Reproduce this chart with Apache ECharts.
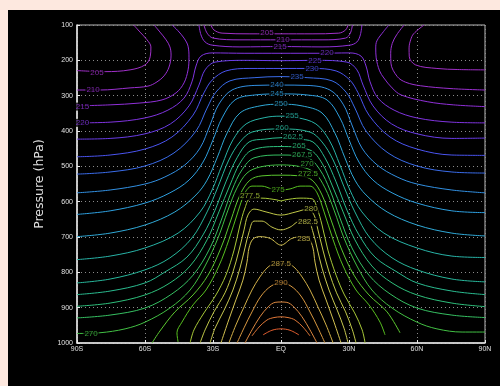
<!DOCTYPE html>
<html>
<head>
<meta charset="utf-8">
<script src="https://cdn.jsdelivr.net/npm/echarts@6/dist/echarts.min.js"></script>
<style>
  html, body { margin: 0; padding: 0; background: #fde8df; }
  #chart { position: absolute; left: 8px; top: 10px; width: 492px; height: 376px; background: #000; }
</style>
</head>
<body>
<div id="chart"></div>
<script>
// axis ticks
const latTicks = ["90S", "60S", "30S", "EQ", "30N", "60N", "90N"];
const pressureTicks = [100, 200, 300, 400, 500, 600, 700, 800, 900, 1000];

// contour levels and their line colours
const levels = [205, 210, 215, 220, 225, 230, 235, 240, 245, 250, 255, 260, 262.5, 265, 267.5,
  270, 272.5, 275, 277.5, 280, 282.5, 285, 287.5, 290, 292.5, 295, 297.5];
const levelColors = ["#a030c8", "#9a30d0", "#9030d8", "#8034e0", "#6a3ce8", "#4a54f0", "#3a6cea", "#3290e2",
  "#2ea0e0", "#30aad8", "#28b4a8", "#28b89c", "#2abc90", "#2ec07c", "#36c062", "#42c044", "#5cc830",
  "#58c020", "#a8c838", "#c0c848", "#c8c850", "#d2c050", "#d2b048", "#d89840", "#dc8840", "#e07838", "#e66030"];

// contour paths, [latitude, pressure hPa]
const c205south = [[-90, 229], [-77.6, 232], [-66.6, 227], [-60, 213], [-57.7, 190], [-57.4, 162], [-59.1, 142], [-62.2, 120], [-65, 100]];
const c205eq = [[-30.9, 100], [-29.6, 114], [-26, 123], [-13.7, 125], [0, 125], [13.7, 125], [25.5, 123], [28.5, 114], [29.6, 100]];
const c205north = [[63.1, 100], [58.5, 125], [57.2, 142], [56.5, 165], [56.6, 190], [59.4, 213], [68.8, 223], [78, 226], [90, 227]];
const c210south = [[-90, 284], [-79.9, 284], [-66.6, 278], [-58.7, 273], [-54.7, 261], [-51.6, 244], [-49.4, 219], [-48.5, 185], [-49, 162], [-50.7, 142], [-53.4, 120], [-56, 100]];
const c210eq = [[-34, 100], [-32.6, 123], [-30, 137], [-18.1, 142], [0, 142], [18.1, 142], [28.5, 137], [30.6, 123], [31.5, 100]];
const c210north = [[54.3, 100], [51, 128], [49.1, 152], [48.4, 180], [48.5, 208], [51.3, 246], [55, 262], [61.6, 272], [75, 280], [90, 284]];
const c215south = [[-90, 329], [-75.4, 326], [-62.6, 321], [-52.5, 312], [-46.3, 292], [-42.8, 264], [-41, 227], [-40.6, 193], [-41, 160], [-42.8, 137], [-45.5, 116], [-48, 100]];
const c215eq = [[-36.2, 100], [-35.3, 128], [-33.5, 148], [-30.4, 157], [-18.1, 162], [0, 161], [18.1, 162], [30.4, 157], [33.5, 148], [35, 128], [35.7, 100]];
const c215north = [[47.6, 100], [45.3, 118], [42.3, 145], [41.8, 165], [42, 193], [43.5, 230], [45.4, 250], [49, 278], [53, 298], [64.5, 317], [76, 326], [90, 331]];
const c220 = [[-90, 377], [-75.4, 375], [-60, 363], [-49.9, 341], [-42.8, 307], [-39.3, 261], [-37.5, 216], [-35.3, 188], [-30.4, 179], [-15.9, 180], [0, 180],
  [15.9, 180], [30.4, 179], [35.3, 188], [37.5, 216], [39.3, 261], [42.8, 307], [49.9, 341], [60, 363], [75.4, 375], [90, 377]];
const c225 = [[-90, 423], [-75.4, 421], [-60, 408], [-48.8, 380], [-40.6, 329], [-36.2, 270], [-33.5, 227], [-29.1, 205], [-15.9, 200], [0, 201],
  [15.9, 200], [29.1, 205], [33.5, 227], [36.2, 270], [40.6, 329], [48.8, 380], [60, 408], [75.4, 421], [90, 420]];
const c230 = [[-90, 473], [-75.4, 468], [-60, 451], [-48.1, 417], [-38.8, 355], [-34, 292], [-30.4, 256], [-24.3, 230], [-13.7, 223], [0, 223],
  [13.7, 223], [24.3, 230], [30.4, 256], [34, 292], [38.8, 355], [48.1, 417], [60, 451], [75.4, 468], [90, 469]];
const c235 = [[-90, 522], [-75.4, 516], [-60, 499], [-47.2, 462], [-37.5, 400], [-32.6, 335], [-28.7, 290], [-22.5, 258], [-11.5, 249], [0, 246],
  [11.5, 249], [22.5, 258], [28.7, 290], [32.6, 335], [37.5, 400], [47.2, 462], [60, 499], [75.4, 516], [90, 519]];
const c240 = [[-90, 575], [-75.4, 567], [-60, 550], [-51.2, 530], [-42.4, 496], [-35.7, 448], [-31.3, 383], [-27.4, 324], [-21.6, 284], [-11.5, 271], [0, 270],
  [11.5, 271], [21.6, 284], [27.4, 324], [31.3, 383], [35.7, 448], [42.4, 496], [51.2, 530], [60, 550], [75.4, 567], [90, 575]];
const c245 = [[-90, 636], [-75.4, 626], [-60, 604], [-49, 575], [-40.6, 539], [-34.4, 488], [-30, 425], [-26, 363], [-20.3, 312], [-11.5, 298], [0, 295],
  [11.5, 298], [20.3, 312], [26, 363], [30, 425], [34.4, 488], [40.6, 539], [49, 575], [60, 604], [75.4, 626], [90, 631]];
const c250 = [[-90, 699], [-75.4, 689], [-60, 666], [-46.8, 629], [-37.5, 581], [-32.6, 539], [-28.2, 476], [-23.8, 406], [-18.1, 349], [-9.3, 329], [0, 324],
  [9.3, 329], [18.1, 349], [23.8, 406], [28.2, 476], [32.6, 539], [37.5, 581], [46.8, 629], [60, 666], [75.4, 689], [90, 697]];
const c255 = [[-90, 764], [-75.4, 754], [-60, 731], [-45.4, 689], [-35.7, 629], [-30.4, 567], [-26, 496], [-21.2, 425], [-15.4, 380], [-7.1, 362], [0, 358],
  [7.1, 362], [15.4, 380], [21.2, 425], [26, 496], [30.4, 567], [35.7, 629], [45.4, 689], [60, 731], [75.4, 754], [90, 758]];
const c260 = [[-90, 830], [-75.4, 819], [-60, 793], [-49, 759], [-39.3, 703], [-32.6, 629], [-27.8, 558], [-23, 482], [-18.1, 431], [-12.8, 403], [0, 394],
  [12.8, 403], [18.1, 431], [23, 482], [27.8, 558], [32.6, 629], [39.3, 703], [49, 759], [60, 793], [75.4, 819], [90, 827]];
const c262 = [[-90, 863], [-75.4, 853], [-60, 830], [-51.2, 799], [-41.5, 757], [-34.4, 694], [-29.1, 624], [-24.3, 544], [-19.4, 476], [-14.1, 431], [-7.1, 423], [0, 419],
  [7.1, 423], [14.1, 431], [19.4, 476], [24.3, 544], [29.1, 624], [34.4, 694], [41.5, 757], [51.2, 799], [60, 830], [75.4, 853], [90, 863]];
const c265 = [[-90, 896], [-75.4, 887], [-60, 864], [-49, 830], [-40.1, 782], [-32.6, 708], [-27.4, 629], [-22.5, 553], [-18.1, 491], [-12.8, 454], [0, 444],
  [12.8, 454], [18.1, 491], [22.5, 553], [27.4, 629], [32.6, 708], [40.1, 782], [49, 830], [60, 864], [75.4, 887], [90, 897]];
const c267 = [[-90, 929], [-75.4, 921], [-60, 901], [-48.1, 861], [-38.8, 808], [-31.3, 731], [-26, 646], [-21.6, 567], [-17.2, 510], [-11.9, 476], [0, 468],
  [11.9, 476], [17.2, 510], [21.6, 567], [26, 646], [31.3, 731], [38.8, 808], [48.1, 861], [60, 901], [75.4, 921], [90, 928]];
const c270 = [[-90, 973], [-79.9, 971], [-68.8, 960], [-60, 941], [-49, 901], [-40.1, 850], [-33.5, 782], [-27.8, 703], [-23.4, 624], [-19.4, 561], [-15, 519], [-9.3, 502], [0, 496],
  [9.3, 502], [15, 519], [19.4, 561], [23.4, 624], [27.8, 703], [33.5, 782], [40.1, 850], [49, 901], [60, 941], [68.8, 960], [79.9, 969], [90, 969]];
const c272 = [[-56.9, 1000], [-53.4, 966], [-46.8, 912], [-38.8, 864], [-32.2, 808], [-26.5, 731], [-22.1, 652], [-18.1, 581], [-13.7, 539], [-8.4, 527], [0, 525],
  [8.4, 527], [13.7, 539], [18.1, 581], [22.1, 652], [26.5, 731], [32.2, 808], [38.8, 864], [46.8, 912], [52.5, 971]];
const c275 = [[-45.4, 997], [-45.9, 971], [-43.7, 941], [-38.8, 892], [-33.1, 850], [-27.4, 782], [-23, 708], [-19, 629], [-15.9, 575], [-12.8, 556], [-8.4, 556], [-4, 564], [0, 567],
  [4, 564], [8.4, 556], [12.8, 556], [15.9, 575], [19, 629], [23, 708], [27.4, 782], [33.1, 850], [38.8, 892], [43.7, 941], [45.9, 977]];
const c277 = [[-40.1, 1000], [-38.4, 963], [-34, 915], [-28.7, 864], [-24.3, 808], [-20.7, 737], [-18.1, 666], [-15.9, 618], [-13.7, 592], [-8.4, 590], [-1.8, 595], [0, 598],
  [1.8, 595], [8.4, 590], [13.7, 592], [15.9, 618], [18.1, 666], [20.7, 737], [24.3, 808], [28, 864], [32.5, 915], [35.8, 963], [37.1, 1000]];
const c280 = [[-35.7, 1000], [-33.5, 963], [-29.6, 912], [-24.7, 858], [-21.2, 799], [-18.5, 737], [-16.3, 680], [-14.6, 638], [-11.9, 621], [-6.6, 629], [0, 638],
  [6.6, 629], [11.9, 621], [14.6, 638], [16.3, 680], [18.5, 737], [21.2, 799], [24.5, 858], [28.5, 912], [31.5, 963], [33.1, 1000]];
const c282 = [[-31.3, 1000], [-29.1, 958], [-25.1, 907], [-21.2, 850], [-18.1, 788], [-15.9, 731], [-14.1, 686], [-11.9, 655], [-8.4, 655], [-4, 672], [0, 680],
  [4, 672], [8.4, 655], [11.9, 655], [14.1, 686], [15.9, 731], [18.1, 788], [21.2, 850], [24.8, 907], [27.8, 958], [29.6, 1000]];
const c285 = [[-26.5, 1000], [-23.4, 941], [-19.9, 878], [-16.8, 822], [-15, 771], [-14.1, 731], [-12.4, 706], [-9.3, 699], [-4.8, 704], [0, 723],
  [4.8, 704], [9.3, 699], [12.4, 706], [14.1, 731], [15, 771], [16.8, 822], [19.9, 878], [23.4, 941], [26.5, 1000]];
const c287 = [[-23, 1000], [-19.9, 949], [-16.3, 898], [-12.8, 850], [-9.3, 813], [-5.7, 785], [-2.6, 776], [0, 776],
  [2.6, 776], [5.7, 785], [9.3, 813], [12.8, 850], [16.3, 898], [19.9, 949], [23, 1000]];
const c290 = [[-19.4, 1000], [-16.3, 957], [-12.8, 912], [-8.8, 867], [-4.4, 839], [0, 830],
  [4.4, 839], [8.8, 867], [12.8, 912], [16.3, 957], [19.4, 1000]];
const c292 = [[-15.9, 1000], [-12.8, 963], [-9.3, 926], [-5.7, 898], [-2.6, 885], [0, 884],
  [2.6, 885], [5.7, 898], [9.3, 926], [12.8, 963], [15.9, 1000]];
const c295 = [[-12.8, 980], [-9.7, 955], [-6.2, 935], [-3.1, 928], [0, 926], [3.1, 928], [6.2, 935], [9.7, 955], [12.8, 980]];
const c297 = [[-7.9, 977], [-4, 964], [0, 960], [4, 964], [7.9, 977]];

const contourSegments = [
  [205, c205south], [205, c205eq], [205, c205north],
  [210, c210south], [210, c210eq], [210, c210north],
  [215, c215south], [215, c215eq], [215, c215north],
  [220, c220], [225, c225], [230, c230], [235, c235], [240, c240], [245, c245], [250, c250],
  [255, c255], [260, c260], [262.5, c262], [265, c265], [267.5, c267], [270, c270],
  [272.5, c272], [275, c275], [277.5, c277], [280, c280], [282.5, c282], [285, c285],
  [287.5, c287], [290, c290], [292.5, c292], [295, c295], [297.5, c297],
];

// contour labels
const labelText = ["205", "210", "215", "220", "205", "210", "215", "220", "225", "230", "235", "240", "245",
  "250", "255", "260", "262.5", "265", "267.5", "270", "272.5", "275", "277.5", "280", "282.5", "285",
  "287.5", "290", "270"];
const labelLat = [-81.2, -82.9, -87.6, -87.6, -6.2, 0.9, -0.4, 20.3, 15, 13.7, 7.1, -1.8, -1.8,
  0, 4.9, 0.4, 5.3, 7.9, 9.3, 11.5, 11.9, -1.3, -13.7, 13.2, 11.9, 10.1, 0, 0, -83.8];
const labelP = [234, 284, 331, 377, 123, 142, 161, 180, 202, 223, 247, 270, 295,
  324, 358, 392, 417, 442, 468, 493, 522, 567, 584, 621, 658, 706, 776, 830, 975];

function colorOf(level) {
  return levelColors[levels.indexOf(level)];
}

const series = contourSegments.map(([level, pts]) => ({
  type: "line",
  data: pts,
  smooth: 0.35,
  symbol: "none",
  silent: true,
  lineStyle: { color: colorOf(level), width: 1 },
  z: 2,
}));

series.push({
  type: "scatter",
  symbolSize: 1,
  silent: true,
  z: 5,
  itemStyle: { color: "rgba(0,0,0,0)" },
  data: labelText.map((t, i) => ({
    value: [labelLat[i], labelP[i], t],
    label: { color: colorOf(Number(t)) },
  })),
  label: {
    show: true,
    position: "inside",
    formatter: (p) => p.value[2],
    fontSize: 8,
    fontFamily: "Liberation Sans, Arial, sans-serif",
    backgroundColor: "#000",
    padding: [0, 1],
  },
});

const chart = echarts.init(document.getElementById("chart"), null, { renderer: "canvas", width: 492, height: 376 });

chart.setOption({
  animation: false,
  backgroundColor: "#000",
  grid: {
    left: 69, right: 15, top: 15, bottom: 43,
    show: true, borderColor: "#bbb", borderWidth: 1,
  },
  xAxis: {
    type: "value",
    min: -90, max: 90, interval: 30,
    axisLine: { onZero: false, lineStyle: { color: "#e8e8e8", width: 1.5 } },
    axisTick: { show: true, length: 3, inside: true, lineStyle: { color: "#e8e8e8" } },
    axisLabel: {
      color: "#e0e0e0", fontSize: 7, margin: 3,
      fontFamily: "Liberation Sans, Arial, sans-serif",
      formatter: (v) => latTicks[Math.round((v + 90) / 30)],
    },
    splitLine: { show: true, lineStyle: { color: "#8a8a8a", type: [1, 3], width: 1 } },
  },
  yAxis: {
    type: "value",
    inverse: true,
    min: pressureTicks[0], max: pressureTicks[pressureTicks.length - 1], interval: 100,
    name: "Pressure (hPa)",
    nameLocation: "middle",
    nameGap: 25,
    nameTextStyle: { color: "#e0e0e0", fontSize: 12.5, fontFamily: "DejaVu Sans, sans-serif" },
    axisLine: { onZero: false, lineStyle: { color: "#e8e8e8", width: 1.5 } },
    axisTick: { show: true, length: 3, inside: true, lineStyle: { color: "#e8e8e8" } },
    axisLabel: {
      color: "#e0e0e0", fontSize: 7, margin: 4,
      fontFamily: "Liberation Sans, Arial, sans-serif",
      formatter: (v) => String(v),
    },
    splitLine: { show: true, lineStyle: { color: "#8a8a8a", type: [1, 3], width: 1 } },
  },
  series,
});
</script>
</body>
</html>
